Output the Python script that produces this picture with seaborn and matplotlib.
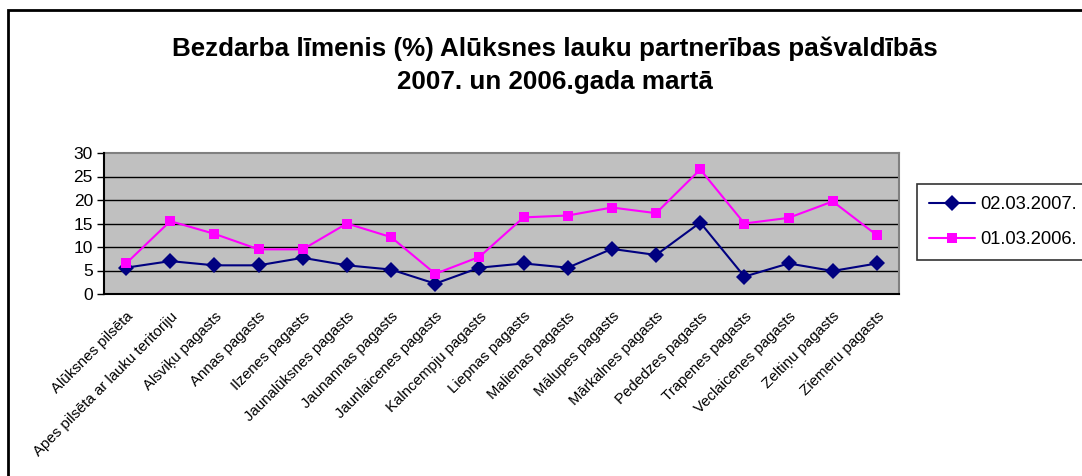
import matplotlib
matplotlib.use("Agg")
import matplotlib.pyplot as plt
from matplotlib.patches import Rectangle
from matplotlib.lines import Line2D
import seaborn as sns
import pandas as pd
import numpy as np

categories = ["Alūksnes pilsēta", "Apes pilsēta ar lauku teritoriju", "Alsviķu pagasts",
              "Annas pagasts", "Ilzenes pagasts", "Jaunalūksnes pagasts", "Jaunannas pagasts",
              "Jaunlaicenes pagasts", "Kalncempju pagasts", "Liepnas pagasts", "Malienas pagasts",
              "Mālupes pagasts", "Mārkalnes pagasts", "Pededzes pagasts", "Trapenes pagasts",
              "Veclaicenes pagasts", "Zeltiņu pagasts", "Ziemeru pagasts"]
series_names = ["02.03.2007.", "01.03.2006."]
values_2007 = [5.6, 7.0, 6.1, 6.1, 7.7, 6.1, 5.2, 2.2, 5.6, 6.5, 5.6, 9.6, 8.3, 15.2, 3.7, 6.5, 4.9, 6.5]
values_2006 = [6.5, 15.5, 12.8, 9.5, 9.5, 15.0, 12.1, 4.3, 7.9, 16.3, 16.7, 18.4, 17.2, 26.5, 15.0, 16.2, 19.7, 12.5]
y_ticks = [0, 5, 10, 15, 20, 25, 30]
title = "Bezdarba līmenis (%) Alūksnes lauku partnerības pašvaldībās\n2007. un 2006.gada martā"

df = pd.DataFrame({
    "pos": list(range(len(categories))) * 2,
    "value": values_2007 + values_2006,
    "series": [series_names[0]] * len(categories) + [series_names[1]] * len(categories),
})

sns.set_theme(style="white")
plt.rcParams["font.family"] = ["Liberation Sans", "DejaVu Sans"]
plt.rcParams["text.color"] = "black"
plt.rcParams["xtick.color"] = "black"
plt.rcParams["ytick.color"] = "black"
plt.rcParams["xtick.labelcolor"] = "black"
plt.rcParams["ytick.labelcolor"] = "black"

fig = plt.figure(figsize=(10.82, 4.76), dpi=100)
fig.patch.set_facecolor("white")
W, H = 1082, 476
ax = fig.add_axes([104 / W, 1 - 294 / H, (899 - 104) / W, (294 - 153) / H])
ax.set_facecolor("#C0C0C0")

palette = {series_names[0]: "#000080", series_names[1]: "#FF00FF"}
markers = {series_names[0]: "D", series_names[1]: "s"}
sizes = {series_names[0]: 8.5, series_names[1]: 7.5}
sns.lineplot(data=df, x="pos", y="value", hue="series", style="series",
             palette=palette, markers=markers, dashes=False, sort=False,
             linewidth=1.5, markersize=8, markeredgewidth=0, ax=ax, legend=False)
for line, name in zip(ax.get_lines(), series_names):
    line.set_markersize(sizes[name])

ax.set_xlim(-0.5, len(categories) - 0.5)
ax.set_ylim(0, 30)
ax.set_yticks(y_ticks)
ax.set_yticklabels([str(t) for t in y_ticks], fontsize=12.5)
ax.set_xticks(range(len(categories)))
ax.set_xticklabels(categories, rotation=45, ha="right", rotation_mode="anchor", fontsize=10.8)
ax.set_xticks(np.arange(-0.5, len(categories), 1.0), minor=True)
ax.tick_params(axis="x", which="major", length=0, pad=11)
ax.tick_params(axis="x", which="minor", length=5, width=1, color="black", direction="out")
ax.tick_params(axis="y", which="major", length=5, width=1, color="black", direction="out", pad=3, left=True)
ax.set_xlabel("")
ax.set_ylabel("")
for t in y_ticks[1:-1]:
    ax.axhline(t, color="black", linewidth=1, zorder=1)
for s in ["top", "right"]:
    ax.spines[s].set_color("#808080")
    ax.spines[s].set_linewidth(1.5)
for s in ["left", "bottom"]:
    ax.spines[s].set_color("black")
    ax.spines[s].set_linewidth(1.5)
ax.spines["left"].set_zorder(5)
ax.spines["bottom"].set_zorder(5)

# legend
handles = [Line2D([], [], color=palette[n], marker=markers[n], markersize=sizes[n], markeredgewidth=0, linewidth=1.5)
           for n in series_names]
leg = fig.legend(handles, series_names, loc="upper left", bbox_to_anchor=(917 / W, 1 - 184 / H),
                 frameon=True, fancybox=False, fontsize=13.2, handlelength=2.5, borderpad=0.65,
                 labelspacing=1.0, handletextpad=0.3, borderaxespad=0)
leg.get_frame().set_edgecolor("black")
leg.get_frame().set_linewidth(1.2)

fig.text(0.513, 1 - 65 / H, title, ha="center", va="center", fontsize=18.7, fontweight="bold",
         linespacing=1.45, color="black")

# outer chart frame
fig.add_artist(Rectangle((8 / W, -0.05), 1.1, 1 - 10 / H + 0.05, transform=fig.transFigure,
                         fill=False, edgecolor="black", linewidth=2, clip_on=False))

fig.savefig("out.png", dpi=100, facecolor="white")
